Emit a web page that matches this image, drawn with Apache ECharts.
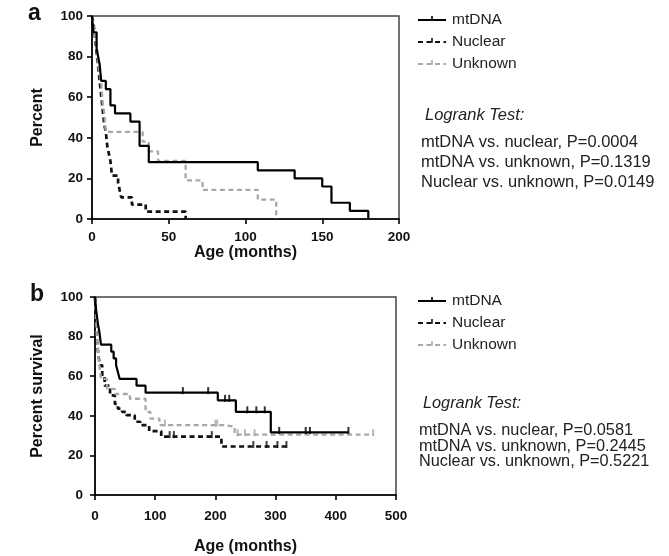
<!DOCTYPE html>
<html><head><meta charset="utf-8">
<script src="https://cdn.jsdelivr.net/npm/echarts@6/dist/echarts.min.js"></script>
<style>html,body{margin:0;padding:0;background:#fff}#c{width:669px;height:556px}</style>
</head><body><div id="c"></div>
<script>
// ---- data ----
const groupNames = ['mtDNA', 'Nuclear', 'Unknown'];
const xTicksA = [0, 50, 100, 150, 200];
const xTicksB = [0, 100, 200, 300, 400, 500];
const yTicks = [0, 20, 40, 60, 80, 100];

// Panel a: [months, percent] after each event
const mtA = [[0,100],[1,92],[3,84],[4,80],[5,76],[6,68],[9,64],[12,56],[15,52],[25,48],[31,36],[37,28],[108,24],[132,20],[150,16],[156,8],[168,4],[180,0]];
const nucA = [[0,100],[1,96.4],[2,89.3],[3,82.1],[4,75],[5,67.9],[6,60.7],[7,53.6],[8,46.4],[9,42.9],[10,35.7],[11,32.1],[12,28.6],[13,21.4],[17,17.9],[18,14.3],[19,10.7],[26,7.1],[35,3.6],[61,0]];
const unkA = [[0,100],[1,95.2],[2,90.5],[3,85.7],[4,76.2],[5,71.4],[6,66.7],[7,57.1],[8,52.4],[9,42.9],[33,38.1],[37,33.3],[43,28.6],[61,19],[72,14.3],[108,9.5],[120,0]];

// Panel b
const mtB = [[0,100],[2,93.1],[5,86.2],[7,82.8],[10,75.9],[27,72.4],[31,69],[35,65.5],[38,62.1],[41,58.6],[69,55.2],[84,51.7],[204,47.8],[234,42],[292,31.6],[421,31.6]];
const nucB = [[0,100],[1,93],[2,86],[3,79],[5,72.4],[8,65.5],[12,60],[16,55.2],[25,50.3],[33,46],[38,43.6],[45,42],[52,40.3],[66,37],[75,35.3],[90,32.3],[110,29.5],[210,24.5],[321,24.5]];
const unkB = [[0,100],[2,88],[3,80],[5,73],[7,66],[10,58.6],[20,53.6],[33,51],[58,48.6],[84,42],[92,38.6],[107,35.3],[215,34.5],[232,30.5],[463,30.5]];

// censored observations (panel b)
const mtCensB = [[146,51.7],[188,51.7],[216,47.8],[223,47.8],[253,42],[268,42],[282,42],[306,31.6],[350,31.6],[357,31.6],[421,31.6]];
const nucCensB = [[124,29.5],[131,29.5],[194,29.5],[263,24.5],[285,24.5],[303,24.5],[318,24.5]];
const unkCensB = [[116,35.3],[200,35.3],[203,35.3],[237,30.5],[249,30.5],[265,30.5],[462,30.5]];

const logrankA = ['mtDNA vs. nuclear, P=0.0004', 'mtDNA vs. unknown, P=0.1319', 'Nuclear vs. unknown, P=0.0149'];
const logrankB = ['mtDNA vs. nuclear, P=0.0581', 'mtDNA vs. unknown, P=0.2445', 'Nuclear vs. unknown, P=0.5221'];

// ---- styles ----
const FF = '"Liberation Sans", Arial, Helvetica, sans-serif';
const tickSym = 'path://M0,0H10V0.01H0Z M4,0H6V6H4Z M0,9.99H10V10H0Z';
const styles = {
  mtDNA:   { color: '#000', width: 2.2, type: 'solid' },
  Nuclear: { color: '#111', width: 2.7, type: [5, 3.5] },
  Unknown: { color: '#a8a8a8', width: 2.3, type: [5, 3.5] }
};

function kmLine(name, data, idx) {
  const s = styles[name];
  return {
    type: 'line', name, data, step: 'end', xAxisIndex: idx, yAxisIndex: idx,
    symbol: tickSym, showSymbol: false, symbolSize: 8,
    itemStyle: { color: s.color, borderWidth: 0 },
    lineStyle: { color: s.color, width: s.width, type: s.type },
    z: name === 'mtDNA' ? 4 : 3, animation: false, silent: true
  };
}
function censor(name, data, idx) {
  const s = styles[name];
  return {
    type: 'scatter', name, data, xAxisIndex: idx, yAxisIndex: idx,
    symbol: 'rect', symbolSize: [2, 7], symbolOffset: [0, -2],
    itemStyle: { color: s.color }, z: 5, animation: false, silent: true
  };
}

function xAxis(ticks, gridIndex, margin) {
  return {
    type: 'value', gridIndex, min: ticks[0], max: ticks[ticks.length - 1], interval: ticks[1] - ticks[0],
    name: 'Age (months)', nameLocation: 'middle', nameGap: gridIndex === 0 ? 24 : 44,
    nameTextStyle: { fontFamily: FF, fontSize: 16, fontWeight: 'bold', color: '#111' },
    axisLine: { show: true, onZero: false, lineStyle: { color: '#000', width: 1.6 } },
    axisTick: { show: true, inside: false, length: 5, lineStyle: { color: '#000', width: 1.6 } },
    axisLabel: { margin, fontFamily: FF, fontSize: 13.5, fontWeight: 'bold', color: '#111' },
    splitLine: { show: false }
  };
}
function yAxis(name, gridIndex, margin, gap) {
  return {
    type: 'value', gridIndex, min: yTicks[0], max: yTicks[yTicks.length - 1], interval: yTicks[1] - yTicks[0],
    name, nameLocation: 'middle', nameGap: gap, nameRotate: 90,
    nameTextStyle: { fontFamily: FF, fontSize: 16, fontWeight: 'bold', color: '#111' },
    axisLine: { show: true, onZero: false, lineStyle: { color: '#000', width: 1.6 } },
    axisTick: { show: true, inside: false, length: 5, lineStyle: { color: '#000', width: 1.6 } },
    axisLabel: { margin, fontFamily: FF, fontSize: 13.5, fontWeight: 'bold', color: '#111' },
    splitLine: { show: false }
  };
}
function legend(top) {
  return {
    data: groupNames, orient: 'vertical', left: 412, top,
    itemWidth: 28, itemHeight: 10, itemGap: 6,
    textStyle: { fontFamily: FF, fontSize: 15.5, color: '#222', padding: [0, 0, 0, 1] },
    selectedMode: false
  };
}
function textBlock(x, yTitle, ys, lines, fs) {
  const els = [{ type: 'text', left: x + 4, top: yTitle - 9, style: { text: 'Logrank Test:', font: 'italic ' + fs + 'px ' + FF, fill: '#222' } }];
  lines.forEach((t, i) => els.push({ type: 'text', left: x, top: ys[i] - 9, style: { text: t, font: fs + 'px ' + FF, fill: '#222' } }));
  return els;
}

const option = {
  backgroundColor: '#fff',
  animation: false,
  grid: [
    { left: 92, top: 16, width: 307, height: 203, show: true, borderColor: '#444', borderWidth: 1.5, backgroundColor: 'transparent' },
    { left: 95, top: 297, width: 301, height: 200, show: true, borderColor: '#444', borderWidth: 1.5, backgroundColor: 'transparent' }
  ],
  xAxis: [xAxis(xTicksA, 0, 11), xAxis(xTicksB, 1, 14)],
  yAxis: [yAxis('Percent', 0, 9, 46), yAxis('Percent survival', 1, 12, 49)],
  legend: [legend(7), legend(288)],
  series: [
    kmLine('mtDNA', mtA, 0), kmLine('Nuclear', nucA, 0), kmLine('Unknown', unkA, 0),
    kmLine('mtDNA', mtB, 1), kmLine('Nuclear', nucB, 1), kmLine('Unknown', unkB, 1),
    censor('mtDNA', mtCensB, 1), censor('Nuclear', nucCensB, 1), censor('Unknown', unkCensB, 1)
  ],
  graphic: [
    { type: 'text', left: 28, top: 2, style: { text: 'a', font: 'bold 23px ' + FF, fill: '#111' } },
    { type: 'text', left: 30, top: 283, style: { text: 'b', font: 'bold 23px ' + FF, fill: '#111' } }
  ].concat(textBlock(421, 116, [143, 163, 183], logrankA, 16.5))
   .concat(textBlock(419, 404, [432, 448, 463], logrankB, 16.3))
};

const chart = echarts.init(document.getElementById('c'), null, { renderer: 'canvas' });
chart.setOption(option);
</script></body></html>
